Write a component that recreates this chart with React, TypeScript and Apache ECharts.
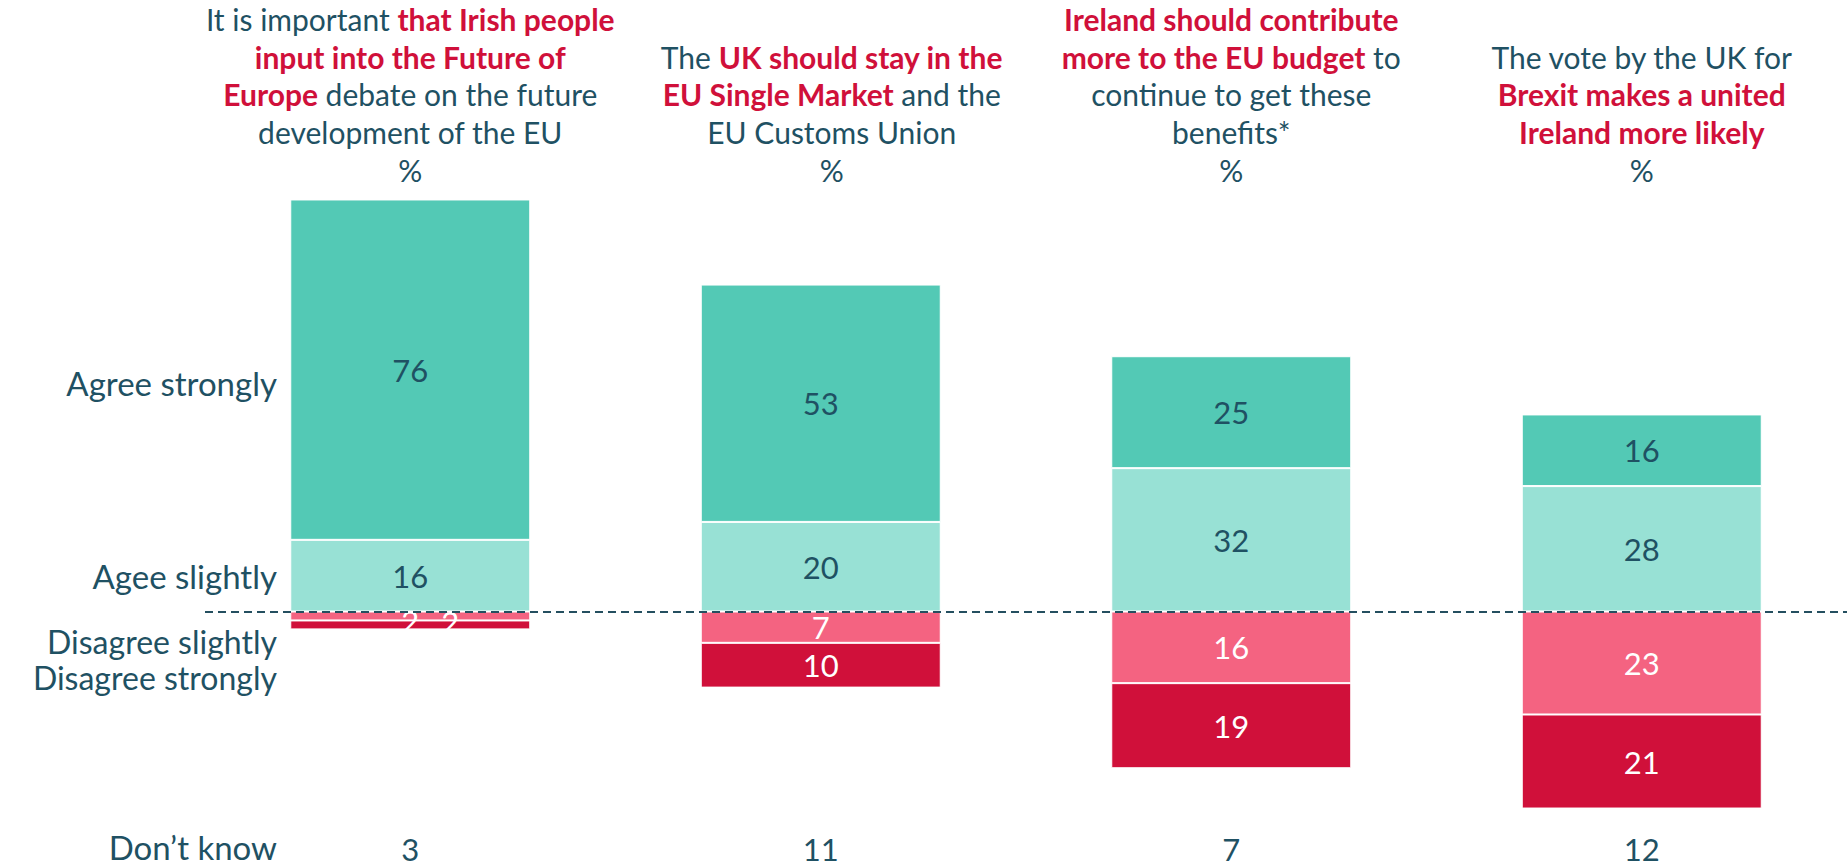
import React, { useEffect, useRef } from "react";
import * as echarts from "echarts";

const headers = [
  "It is important {r|that Irish people}\n{r|input into the Future of}\n{r|Europe} debate on the future\ndevelopment of the EU\n%",
  "The {r|UK should stay in the}\n{r|EU Single Market} and the\nEU Customs Union\n%",
  "{r|Ireland should contribute}\n{r|more to the EU budget} to\ncontinue to get these\nbenefits*\n%",
  "The vote by the UK for\n{r|Brexit makes a united}\n{r|Ireland more likely}\n%",
];
const agreeStrongly = [76, 53, 25, 16];
const agreeSlightly = [16, 20, 32, 28];
const disagreeSlightly = [2, 7, 16, 23];
const disagreeStrongly = [2, 10, 19, 21];
const dontKnow = [3, 11, 7, 12];
const rowLabels = ["Agree strongly", "Agee slightly", "Disagree slightly", "Disagree strongly", "Don\u2019t know"];

const TEAL_TEXT = "#1F5163";
const RED = "#D0103A";
const FONT = "Lato";

export default function App() {
  const ref = useRef<HTMLDivElement>(null);
  useEffect(() => {
    if (!ref.current) return;
    const chart = echarts.init(ref.current, undefined, { renderer: "svg" });
    const cats = headers.map((_, i) => "c" + i);
    const headerPads = [[0, 0, 0, 0], [0, 0, 0, 22], [0, 0, 0, 0], [0, 0, 0, 0]];
    const labelBase = {
      show: true,
      position: "inside",
      fontFamily: FONT,
      fontSize: 31,
      formatter: (p: any) => String(Math.abs(p.value)),
    };
    const itemBorder = { borderColor: "#ffffff", borderWidth: 1 };
    const leftLabelYs = [383, 576, 641, 677, 847];
    const leftLabelSizes = [33, 33, 32, 32, 33];
    chart.setOption({
      animation: false,
      grid: { left: 205, width: 1650, top: 188.9, height: 628.6 },
      xAxis: [
        {
          type: "category",
          data: cats,
          position: "bottom",
          axisLine: { show: false },
          axisTick: { show: false },
          axisLabel: {
            interval: 0,
            margin: 16,
            fontFamily: FONT,
            fontSize: 31,
            color: TEAL_TEXT,
            formatter: (_v: string, i: number) => String(dontKnow[i]),
          },
        },
        {
          type: "category",
          data: cats.map((c, i) => ({ value: c, textStyle: { padding: headerPads[i] } })),
          position: "top",
          axisLine: { show: false },
          axisTick: { show: false },
          axisLabel: {
            interval: 0,
            margin: 2,
            fontFamily: FONT,
            fontSize: 30,
            lineHeight: 37.7,
            color: TEAL_TEXT,
            align: "center",
            formatter: (_v: string, i: number) => headers[i],
            rich: {
              r: { color: RED, fontWeight: "bold", fontFamily: FONT, fontSize: 30, lineHeight: 37.7 },
            },
          },
        },
      ],
      yAxis: {
        type: "value",
        min: -46,
        max: 94,
        show: false,
        splitLine: { show: false },
      },
      series: [
        {
          name: "Agree slightly",
          type: "bar",
          stack: "total",
          barWidth: 240,
          data: agreeSlightly,
          itemStyle: { color: "#98E1D5", ...itemBorder },
          label: { ...labelBase, color: TEAL_TEXT },
          markLine: {
            silent: true,
            symbol: "none",
            label: { show: false },
            lineStyle: { type: [8, 5], color: "#244F60", width: 2 },
            data: [{ yAxis: 0 }],
          },
        },
        {
          name: "Agree strongly",
          type: "bar",
          stack: "total",
          barWidth: 240,
          data: agreeStrongly,
          itemStyle: { color: "#53C9B5", ...itemBorder },
          label: { ...labelBase, color: TEAL_TEXT },
        },
        {
          name: "Disagree slightly",
          type: "bar",
          stack: "total",
          barWidth: 240,
          data: disagreeSlightly.map((v, i) =>
            i === 0 ? { value: -v, label: { offset: [0, 5] } } : -v
          ),
          itemStyle: { color: "#F46381", ...itemBorder },
          label: { ...labelBase, color: "#ffffff" },
        },
        {
          name: "Disagree strongly",
          type: "bar",
          stack: "total",
          barWidth: 240,
          data: disagreeStrongly.map((v, i) =>
            i === 0 ? { value: -v, label: { offset: [40, -3] } } : -v
          ),
          itemStyle: { color: RED, ...itemBorder },
          label: { ...labelBase, color: "#ffffff" },
        },
      ],
      graphic: rowLabels.map((t, i) => ({
        type: "text",
        x: 277,
        y: leftLabelYs[i],
        style: {
          text: t,
          fontFamily: FONT,
          fontSize: leftLabelSizes[i],
          lineHeight: 35,
          fill: TEAL_TEXT,
          align: "right",
          verticalAlign: "middle",
        },
      })),
    });
    return () => chart.dispose();
  }, []);
  return (
    <div
      ref={ref}
      style={{ position: "fixed", left: 0, top: 0, width: "1847px", height: "867px", background: "#fff" }}
    />
  );
}
